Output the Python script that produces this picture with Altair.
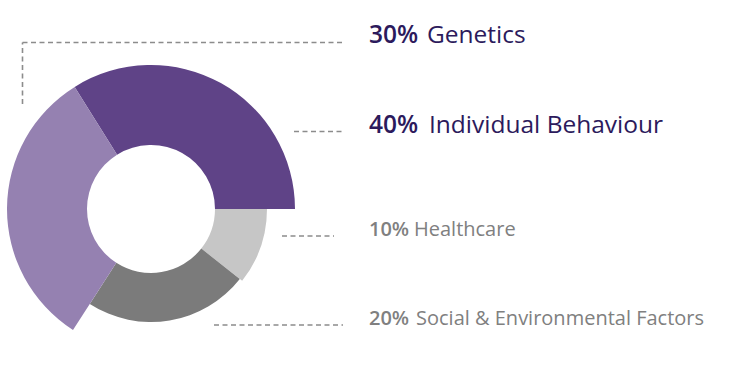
import math
import altair as alt
import pandas as pd

# ---------------- data ----------------
categories = ["Genetics", "Individual Behaviour", "Healthcare", "Social & Environmental Factors"]
percent = [30, 40, 10, 20]
# share of the full circle each slice covers in the picture (%)
arc_share = [32.0, 33.9, 10.6, 23.5]
# clockwise drawing order of the slices
draw_order = ["Individual Behaviour", "Healthcare", "Social & Environmental Factors", "Genetics"]

# ---------------- layout / style ----------------
W, H = 737, 380
CX, CY = 151, 209
R_IN = 64
R_OUT = {"Genetics": 144, "Individual Behaviour": 144, "Healthcare": 116,
         "Social & Environmental Factors": 113}
SLICE_COLOR = {"Genetics": "#9581b1", "Individual Behaviour": "#5f4387",
               "Healthcare": "#c6c6c6", "Social & Environmental Factors": "#7b7b7b"}
START = math.radians(328)

TEXT_COLOR = {"Genetics": "#2c1a5c", "Individual Behaviour": "#2c1a5c",
              "Healthcare": "#808080", "Social & Environmental Factors": "#808080"}
FONT_SIZE = {"Genetics": 24.5, "Individual Behaviour": 24.5, "Healthcare": 20,
             "Social & Environmental Factors": 20}
PCT_X = 369
NAME_X = {"Genetics": 427, "Individual Behaviour": 429, "Healthcare": 414,
          "Social & Environmental Factors": 416}
BASE_Y = {"Genetics": 43, "Individual Behaviour": 133, "Healthcare": 236,
          "Social & Environmental Factors": 325}

# leader line segments (x, y, x2, y2)
segments = [
    (22.5, 104, 22.5, 42.5),
    (22.5, 42.5, 343, 42.5),
    (294, 131.5, 343, 131.5),
    (282, 236, 334, 236),
    (214, 325, 343, 325),
]
FONT = "Open Sans"

# ---------------- tables ----------------
share = dict(zip(categories, arc_share))
rows = []
acc = 0.0
for c in draw_order:
    rows.append({"category": c, "t0": acc, "t1": acc + share[c]})
    acc += share[c]
arcs = pd.DataFrame(rows)

labels = pd.DataFrame({
    "category": categories,
    "pct": [f"{p}%" for p in percent],
})
labels["px"] = PCT_X
labels["nx"] = labels["category"].map(NAME_X)
labels["y"] = labels["category"].map(BASE_Y)

lines = pd.DataFrame(segments, columns=["x", "y", "x2", "y2"])

theta_scale = alt.Scale(domain=[0, 100], range=[START, START + 2 * math.pi])

layers = []
for c in draw_order:
    layers.append(
        alt.Chart(arcs)
        .transform_filter(alt.datum.category == c)
        .mark_arc(innerRadius=R_IN, outerRadius=R_OUT[c], color=SLICE_COLOR[c])
        .encode(
            theta=alt.Theta("t0:Q", scale=theta_scale),
            theta2="t1:Q",
            x=alt.value(CX),
            y=alt.value(CY),
        )
    )

layers.append(
    alt.Chart(lines)
    .mark_rule(color="#8c8c8c", strokeWidth=1.6, strokeDash=[5, 3.5])
    .encode(
        x=alt.X("x:Q", scale=None),
        y=alt.Y("y:Q", scale=None),
        x2="x2:Q",
        y2="y2:Q",
    )
)

for c in categories:
    base = alt.Chart(labels).transform_filter(alt.datum.category == c)
    layers.append(
        base.mark_text(align="left", baseline="alphabetic", font=FONT, fontWeight=600,
                       fontSize=FONT_SIZE[c], color=TEXT_COLOR[c])
        .encode(x=alt.X("px:Q", scale=None), y=alt.Y("y:Q", scale=None), text="pct:N")
    )
    layers.append(
        base.mark_text(align="left", baseline="alphabetic", font=FONT, fontWeight="normal",
                       fontSize=FONT_SIZE[c], color=TEXT_COLOR[c])
        .encode(x=alt.X("nx:Q", scale=None), y=alt.Y("y:Q", scale=None), text="category:N")
    )

chart = (
    alt.layer(*layers)
    .properties(width=W, height=H, padding=0, autosize=alt.AutoSizeParams(type="none"),
                background="white")
    .configure_view(stroke=None)
)

chart.save("out.html", embed_options={"renderer": "svg", "actions": False})
